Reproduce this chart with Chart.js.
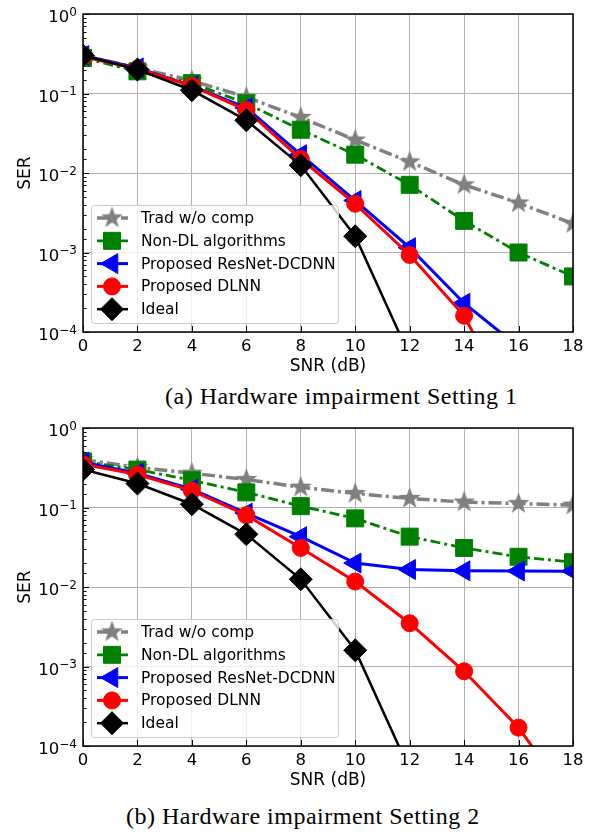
<!DOCTYPE html>
<html>
<head>
<meta charset="utf-8">
<script src="https://cdn.jsdelivr.net/npm/chart.js@4.4.1/dist/chart.umd.min.js"></script>
<style>
  html, body { margin: 0; padding: 0; background: #fff; }
  body { width: 604px; height: 837px; position: relative; overflow: hidden; }
  .plot { position: absolute; left: 0; width: 604px; height: 380px; }
  .cap { position: absolute; font-family: "Liberation Serif", serif; font-size: 24px; letter-spacing: 0.5px; white-space: nowrap; color: #000; line-height: 1; }
</style>
</head>
<body>
<div class="plot" style="top:0"><canvas id="chart1" width="604" height="380"></canvas></div>
<div class="plot" style="top:414px"><canvas id="chart2" width="604" height="380"></canvas></div>
<div class="cap" style="left:165px;top:384px">(a) Hardware impairment Setting 1</div>
<div class="cap" style="left:126px;top:804px">(b) Hardware impairment Setting 2</div>

<script>
/* ============================================================
   SER vs SNR - two hardware impairment settings
   ============================================================ */

// ── Data ─────────────────────────────────────────────────────
const snrDb = [0, 2, 4, 6, 8, 10, 12, 14, 16, 18];
const seriesNames = ["Trad w/o comp", "Non-DL algorithms", "Proposed ResNet-DCDNN", "Proposed DLNN", "Ideal"];

// Setting 1
const tradS1   = [0.30, 0.21, 0.145, 0.090, 0.050, 0.026, 0.0138, 0.0071, 0.0042, 0.0023];
const nonDlS1  = [0.28, 0.19, 0.135, 0.075, 0.035, 0.017, 0.0071, 0.0025, 0.0010, 0.0005];
const resnetS1 = [0.30, 0.21, 0.125, 0.066, 0.017, 0.0045, 0.00115, 0.00023, 0.000065, null];
const dlnnS1   = [0.29, 0.205, 0.125, 0.062, 0.015, 0.0041, 0.00093, 0.00016, 0.000008, null];
const idealS1  = [0.30, 0.20, 0.11, 0.046, 0.0125, 0.0016, 0.00005, null, null, null];

// Setting 2
const tradS2   = [0.40, 0.32, 0.27, 0.225, 0.18, 0.15, 0.13, 0.117, 0.112, 0.107];
const nonDlS2  = [0.38, 0.30, 0.22, 0.155, 0.104, 0.073, 0.043, 0.031, 0.024, 0.0205];
const resnetS2 = [0.37, 0.27, 0.17, 0.085, 0.043, 0.020, 0.0166, 0.016, 0.0159, 0.0158];
const dlnnS2   = [0.35, 0.26, 0.163, 0.080, 0.031, 0.0117, 0.0035, 0.00087, 0.00017, 0.000019];
const idealS2  = [0.30, 0.20, 0.11, 0.046, 0.0125, 0.0016, 0.00005, null, null, null];

const xTickStep = 2;
const yMin = 1e-4, yMax = 1;

// ── Marker helpers ───────────────────────────────────────────
function makeStar(color, R) {
    const c = document.createElement("canvas");
    const s = Math.ceil(2 * R + 2);
    c.width = s; c.height = s;
    const g = c.getContext("2d");
    g.fillStyle = color;
    g.beginPath();
    for (let k = 0; k < 10; k++) {
        const r = k % 2 ? R * 0.4 : R;
        const ang = -Math.PI / 2 + k * Math.PI / 5;
        const px = s / 2 + r * Math.cos(ang), py = s / 2 + r * Math.sin(ang);
        if (k) g.lineTo(px, py); else g.moveTo(px, py);
    }
    g.closePath();
    g.fill();
    return c;
}
const starImg = makeStar("#808080", 11.5);

const isDecade = v => Math.abs(Math.log10(v) - Math.round(Math.log10(v))) < 1e-6;

// ── Plugins ──────────────────────────────────────────────────
// spines, inward ticks and 10^k labels with a real superscript
const frameAndTicks = {
    id: "frameAndTicks",
    afterDatasetsDraw(chart) {
        const { ctx, chartArea: a, scales: { x, y } } = chart;
        ctx.save();
        ctx.strokeStyle = "#000";
        ctx.lineWidth = 1;
        y.ticks.forEach(t => {
            const py = Math.round(y.getPixelForValue(t.value)) + 0.5;
            const len = isDecade(t.value) ? 6 : 3.5;
            ctx.beginPath(); ctx.moveTo(a.left, py); ctx.lineTo(a.left + len, py); ctx.stroke();
        });
        x.ticks.forEach(t => {
            const px = Math.round(x.getPixelForValue(t.value)) + 0.5;
            ctx.beginPath(); ctx.moveTo(px, a.bottom); ctx.lineTo(px, a.bottom - 6); ctx.stroke();
        });
        ctx.lineWidth = 1.5;
        ctx.strokeRect(a.left, a.top, a.right - a.left, a.bottom - a.top);
        ctx.restore();
    },
    afterDraw(chart) {
        const { ctx, chartArea: a, scales: { y } } = chart;
        ctx.save();
        ctx.fillStyle = "#000";
        ctx.textBaseline = "alphabetic";
        ctx.textAlign = "right";
        const right = a.left - 6;
        y.ticks.filter(t => isDecade(t.value)).forEach(t => {
            const py = y.getPixelForValue(t.value);
            const e = Math.round(Math.log10(t.value));
            const expText = e < 0 ? "\u2212" + (-e) : String(e);
            ctx.font = "12px 'DejaVu Sans'";
            const ew = ctx.measureText(expText).width;
            ctx.fillText(expText, right, py + 1.5);
            ctx.font = "16.5px 'DejaVu Sans'";
            ctx.fillText("10", right - ew, py + 8);
        });
        ctx.restore();
    }
};

const insideLegend = {
    id: "insideLegend",
    afterDraw(chart) {
        const { ctx, chartArea: a } = chart;
        const sets = chart.data.datasets;
        const boxW = 247, boxH = 118, rowH = 22.8;
        const bx = a.left + 8, by = a.bottom - 9 - boxH;
        ctx.save();
        ctx.beginPath();
        ctx.roundRect(bx + 0.5, by + 0.5, boxW, boxH, 3);
        ctx.fillStyle = "rgba(255,255,255,0.8)";
        ctx.fill();
        ctx.strokeStyle = "#cccccc";
        ctx.lineWidth = 1;
        ctx.stroke();

        sets.forEach((ds, i) => {
            const cy = by + 13 + i * rowH;
            ctx.strokeStyle = ds.borderColor;
            ctx.lineWidth = ds.borderWidth;
            ctx.setLineDash(ds.borderDash || []);
            ctx.beginPath(); ctx.moveTo(bx + 6, cy); ctx.lineTo(bx + 37, cy); ctx.stroke();
            ctx.setLineDash([]);
            ctx.fillStyle = ds.pointBackgroundColor;
            ctx.strokeStyle = ds.pointBorderColor;
            ctx.lineWidth = 1;
            Chart.helpers.drawPoint(ctx, {
                pointStyle: ds.pointStyle, radius: ds.pointRadius,
                rotation: ds.pointRotation || 0, borderWidth: 1
            }, bx + 21, cy);
            ctx.fillStyle = "#000";
            ctx.font = "15.5px 'DejaVu Sans'";
            ctx.textBaseline = "middle";
            ctx.fillText(ds.label, bx + 50, cy + 1);
        });
        ctx.restore();
    }
};

// ── Chart builder ────────────────────────────────────────────
function toPoints(vals) {
    return snrDb.map((x, i) => ({ x, y: vals[i] }));
}

function buildDatasets(trad, nonDl, resnet, dlnn, ideal) {
    const base = { tension: 0, clip: 0, pointBorderWidth: 1, pointHoverRadius: 0 };
    return [
        { ...base, label: seriesNames[0], data: toPoints(trad), order: 5,
          borderColor: "#808080", borderWidth: 3.5, borderDash: [13, 4, 3, 4],
          pointStyle: starImg, pointRadius: 11.5,
          pointBackgroundColor: "#808080", pointBorderColor: "#808080" },
        { ...base, label: seriesNames[1], data: toPoints(nonDl), order: 4,
          borderColor: "#008000", borderWidth: 2.8, borderDash: [10, 4, 3, 4],
          pointStyle: "rect", pointRadius: 12,
          pointBackgroundColor: "#008000", pointBorderColor: "#008000" },
        { ...base, label: seriesNames[2], data: toPoints(resnet), order: 3,
          borderColor: "#0000ff", borderWidth: 3,
          pointStyle: "triangle", pointRotation: -90, pointRadius: 11.5,
          pointBackgroundColor: "#0000ff", pointBorderColor: "#0000ff" },
        { ...base, label: seriesNames[3], data: toPoints(dlnn), order: 2,
          borderColor: "#ff0000", borderWidth: 3,
          pointStyle: "circle", pointRadius: 8.5,
          pointBackgroundColor: "#ff0000", pointBorderColor: "#ff0000" },
        { ...base, label: seriesNames[4], data: toPoints(ideal), order: 1,
          borderColor: "#000000", borderWidth: 2.5,
          pointStyle: "rectRot", pointRadius: 11.5,
          pointBackgroundColor: "#000000", pointBorderColor: "#000000" }
    ];
}

function renderChart(canvasId, datasets) {
    const font = { family: "'DejaVu Sans'", size: 16.5 };
    return new Chart(document.getElementById(canvasId), {
        type: "line",
        data: { datasets },
        options: {
            responsive: false,
            animation: false,
            events: [],
            devicePixelRatio: 1,
            layout: { padding: { top: 14, right: 31, left: 0, bottom: 0 } },
            plugins: { legend: { display: false }, tooltip: { enabled: false } },
            scales: {
                x: {
                    type: "linear", min: 0, max: 18,
                    ticks: { stepSize: xTickStep, color: "#000", font, padding: 5, maxRotation: 0 },
                    grid: { color: "#b0b0b0", lineWidth: 1, drawTicks: false },
                    border: { display: false },
                    title: { display: true, text: "SNR (dB)", color: "#000", font: { ...font, size: 17 }, padding: { top: 0, bottom: 3 } },
                    afterFit: s => { s.height = 48; }
                },
                y: {
                    type: "logarithmic", min: yMin, max: yMax,
                    ticks: { autoSkip: false, callback: () => "" },
                    grid: {
                        drawTicks: false, lineWidth: 1,
                        color: c => (c.tick && isDecade(c.tick.value)) ? "#b0b0b0" : "rgba(0,0,0,0)"
                    },
                    border: { display: false },
                    title: { display: true, text: "SER", color: "#000", font: { ...font, size: 17 }, padding: { top: 15, bottom: 0 } },
                    afterFit: s => { s.width = 83; }
                }
            }
        },
        plugins: [frameAndTicks, insideLegend]
    });
}

renderChart("chart1", buildDatasets(tradS1, nonDlS1, resnetS1, dlnnS1, idealS1));
renderChart("chart2", buildDatasets(tradS2, nonDlS2, resnetS2, dlnnS2, idealS2));
</script>
</body>
</html>
